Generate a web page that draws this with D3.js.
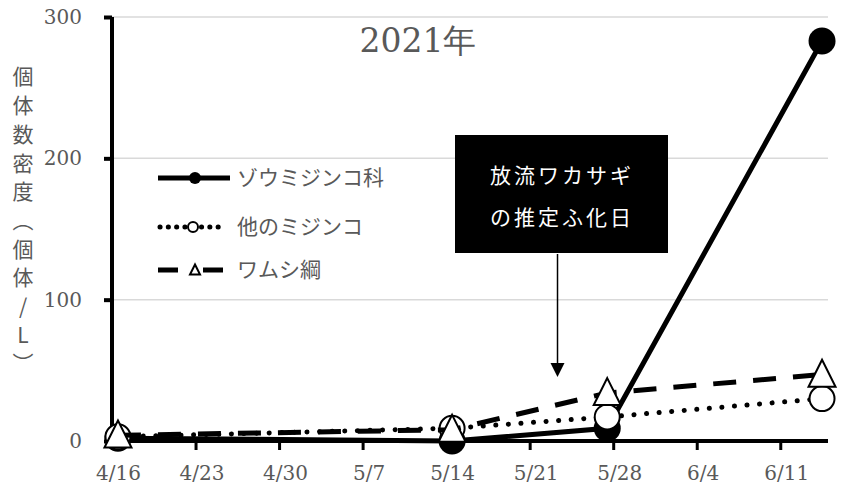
<!DOCTYPE html>
<html>
<head>
<meta charset="utf-8">
<script src="https://cdn.jsdelivr.net/npm/d3@7"></script>
<style>
  body { margin: 0; background: #fff; }
  svg { display: block; }
</style>
</head>
<body>
<div id="chart"></div>
<script>
// data
const sampleDates = ["2021-04-16", "2021-05-14", "2021-05-27", "2021-06-14"];
const zouMijinko = [2, 0, 9, 283];     // ゾウミジンコ科
const otherMijinko = [3, 9, 17, 30];   // 他のミジンコ
const wamushi = [4, 8, 34, 47];        // ワムシ綱
const seriesNames = ["ゾウミジンコ科", "他のミジンコ", "ワムシ綱"];
const yTicks = [0, 100, 200, 300];
const xTickDates = ["2021-04-16", "2021-04-23", "2021-04-30", "2021-05-07", "2021-05-14",
                    "2021-05-21", "2021-05-28", "2021-06-04", "2021-06-11"];
const title = "2021年";
const yLabel = "個体数密度（個体/L）";
const noteLines = ["放流ワカサギ", "の推定ふ化日"];
const noteDate = "2021-05-23T08:00";

const W = 845, H = 488;
const serif = "'DejaVu Serif', 'Liberation Serif', serif";
const jp = "'Noto Sans CJK JP', sans-serif";
const grey = "#595959";

const parse = d3.timeParse("%Y-%m-%d");
const halfDay = d => d3.timeHour.offset(d, 12);

const svg = d3.select("#chart").append("svg")
    .attr("width", W).attr("height", H);

// Scales
const x = d3.scaleTime()
    .domain([parse("2021-04-16"), parse("2021-06-15")])
    .range([112, 828]);
const y = d3.scaleLinear()
    .domain([0, 300])
    .range([441, 17]);

// gridlines
svg.append("g").selectAll("line")
    .data(yTicks.slice(1))
  .enter().append("line")
    .attr("x1", x.range()[0]).attr("x2", x.range()[1])
    .attr("y1", d => y(d)).attr("y2", d => y(d))
    .attr("stroke", "#d9d9d9").attr("stroke-width", 1.5);

// y axis
const yAxis = svg.append("g")
    .attr("transform", `translate(${x.range()[0]},0)`)
    .call(d3.axisLeft(y).tickValues(yTicks).tickSize(8).tickPadding(22));
yAxis.select(".domain").attr("stroke", "#000").attr("stroke-width", 4)
    .attr("d", `M0,${y(0) + 2}V${y(300)}`);
yAxis.selectAll(".tick line").attr("stroke", "#000").attr("stroke-width", 4);
yAxis.selectAll(".tick text")
    .attr("font-family", serif).attr("font-size", 20).attr("fill", grey);

// x axis
const xAxis = svg.append("g")
    .attr("transform", `translate(0,${y(0)})`)
    .call(d3.axisBottom(x).tickValues(xTickDates.map(parse))
      .tickSize(9).tickPadding(16).tickFormat(d3.timeFormat("%-m/%-d")));
xAxis.select(".domain").attr("stroke", "#000").attr("stroke-width", 4)
    .attr("d", `M${x.range()[0]},0H${x.range()[1]}`);
xAxis.selectAll(".tick line").attr("stroke", "#000").attr("stroke-width", 3);
xAxis.selectAll(".tick text")
    .attr("dx", x(halfDay(parse("2021-04-16"))) - x(parse("2021-04-16")))
    .attr("font-family", serif).attr("font-size", 20).attr("fill", grey);
svg.selectAll(".domain").attr("fill", "none");

// title
svg.append("text")
    .attr("x", 418).attr("y", 52)
    .attr("text-anchor", "middle")
    .attr("font-family", serif).attr("font-size", 33).attr("fill", grey)
    .text(title);

// vertical y label
svg.append("text")
    .attr("x", 23).attr("y", 66)
    .style("writing-mode", "vertical-rl")
    .style("text-orientation", "upright")
    .attr("font-family", jp).attr("font-size", 21).attr("fill", grey)
    .attr("letter-spacing", 7.7)
    .text(yLabel);

// series
const styles = [
  {values: zouMijinko, dash: null, cap: "butt", marker: "dot"},
  {values: otherMijinko, dash: "0.1,12.5", cap: "round", marker: "ring"},
  {values: wamushi, dash: "23,17", cap: "butt", marker: "tri"}
];

const line = d3.line()
    .x(d => x(d.date))
    .y(d => y(d.v));

const triangle = s => `M0,${-s * 0.55}L${s * 0.5},${s * 0.45}L${-s * 0.5},${s * 0.45}Z`;

function drawMarker(g, kind, size) {
  if (kind === "dot") {
    g.append("circle").attr("r", size / 2).attr("fill", "#000");
  } else if (kind === "ring") {
    g.append("circle").attr("r", size / 2 - 1).attr("fill", "#fff")
      .attr("stroke", "#000").attr("stroke-width", 2);
  } else {
    g.append("path").attr("d", triangle(size)).attr("fill", "#fff")
      .attr("stroke", "#000").attr("stroke-width", 2).attr("stroke-linejoin", "miter");
  }
}

styles.forEach(s => {
  const pts = sampleDates.map((d, i) => ({date: halfDay(parse(d)), v: s.values[i]}));
  svg.append("path")
      .datum(pts)
      .attr("d", line)
      .attr("fill", "none")
      .attr("stroke", "#000")
      .attr("stroke-width", 5)
      .attr("stroke-linecap", s.cap)
      .attr("stroke-dasharray", s.dash);
  pts.forEach(p => {
    const g = svg.append("g").attr("transform", `translate(${x(p.date)},${y(p.v)})`);
    drawMarker(g, s.marker, 27);
  });
});

// legend
const legendY = [178, 227, 270];
styles.forEach((s, i) => {
  const g = svg.append("g").attr("transform", `translate(0,${legendY[i]})`);
  g.append("line")
      .attr("x1", i === 1 ? 160 : 158).attr("x2", i === 1 ? 226 : 230)
      .attr("stroke", "#000").attr("stroke-width", 5)
      .attr("stroke-linecap", s.cap)
      .attr("stroke-dasharray", i === 1 ? "0.1,8.2" : (i === 2 ? "20,25" : null));
  const m = g.append("g").attr("transform", `translate(${i === 1 ? 193 : 195},0)`);
  drawMarker(m, s.marker, i === 2 ? 10 : 12);
  g.append("text")
      .attr("x", 237).attr("dy", "0.35em")
      .attr("font-family", jp).attr("font-size", 21).attr("fill", grey)
      .text(seriesNames[i]);
});

// annotation box and arrow
const ax = x(new Date(noteDate));
svg.append("rect")
    .attr("x", 455).attr("y", 135).attr("width", 213).attr("height", 118)
    .attr("fill", "#000");
noteLines.forEach((t, i) => {
  svg.append("text")
      .attr("x", 562).attr("y", 176 + i * 42)
      .attr("dy", "0.35em")
      .attr("text-anchor", "middle")
      .attr("letter-spacing", 3)
      .attr("font-family", jp).attr("font-size", 21).attr("fill", "#fff")
      .text(t);
});
svg.append("line")
    .attr("x1", ax).attr("x2", ax)
    .attr("y1", 254).attr("y2", 364)
    .attr("stroke", "#000").attr("stroke-width", 1.5);
svg.append("path")
    .attr("d", `M${ax - 7},363L${ax + 7},363L${ax},377Z`)
    .attr("fill", "#000");
</script>
</body>
</html>
